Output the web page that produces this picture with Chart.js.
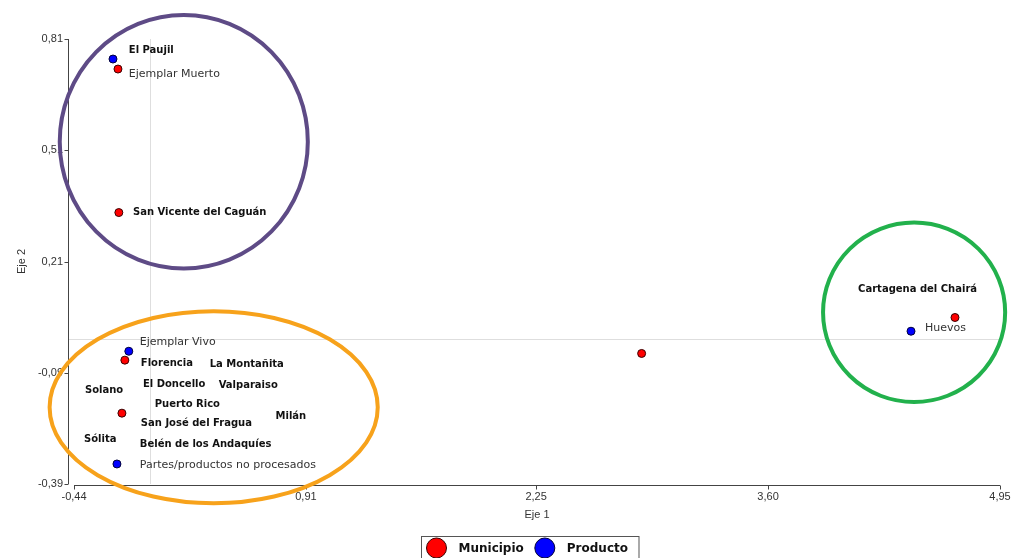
<!DOCTYPE html>
<html>
<head>
<meta charset="utf-8">
<script src="https://cdn.jsdelivr.net/npm/chart.js@4.4.1/dist/chart.umd.min.js"></script>
<style>
  html, body { margin: 0; padding: 0; background: #fff; }
  #wrap { width: 1022px; height: 558px; overflow: hidden; }
</style>
</head>
<body>
<div id="wrap"><canvas id="myChart" width="1022" height="558"></canvas></div>
<script>
// series
const seriesNames = ['Municipio', 'Producto'];
const municipioX = [-0.184, -0.179, -0.144, -0.161, 2.864, 4.688];
const municipioY = [0.729, 0.342, -0.056, -0.199, -0.038, 0.059];
const productoX = [-0.213, -0.121, -0.190, 4.432];
const productoY = [0.756, -0.032, -0.336, 0.022];

// point labels (data coords of left/middle of the text)
const labelText = ['El Paujil', 'Ejemplar Muerto', 'San Vicente del Caguán', 'Ejemplar Vivo',
  'Florencia', 'La Montañita', 'El Doncello', 'Valparaiso', 'Solano', 'Puerto Rico', 'Milán',
  'San José del Fragua', 'Sólita', 'Belén de los Andaquíes', 'Partes/productos no procesados',
  'Cartagena del Chairá', 'Huevos'];
const labelX = [-0.121, -0.121, -0.097, -0.057, -0.051, 0.350, -0.039, 0.402, -0.376, 0.030, 0.733,
  -0.051, -0.382, -0.057, -0.057, 4.124, 4.514];
const labelY = [0.778, 0.716, 0.342, -0.008, -0.064, -0.067, -0.121, -0.124, -0.137, -0.175, -0.207,
  -0.226, -0.269, -0.282, -0.339, 0.135, 0.030];
const labelBold = [1, 0, 1, 0, 1, 1, 1, 1, 1, 1, 1, 1, 1, 1, 0, 1, 0];

// axes
const xTicks = [-0.44, 0.91, 2.25, 3.60, 4.95];
const yTicks = [-0.39, -0.09, 0.21, 0.51, 0.81];

// group circles: center x, center y, radius x, radius y (data units)
const groups = [
  { cx: 0.199, cy: 0.533, rx: 0.722, ry: 0.342, color: '#5e4b86' },
  { cx: 0.373, cy: -0.183, rx: 0.955, ry: 0.259, color: '#f7a21b' },
  { cx: 4.450, cy: 0.073, rx: 0.530, ry: 0.242, color: '#22b14c' }
];

const fmt = v => v.toFixed(2).replace('.', ',');
const tickFont = { family: 'Liberation Sans', size: 11 };

const decor = {
  id: 'decor',
  beforeDatasetsDraw(chart) {
    const { ctx, chartArea: a, scales: { x, y } } = chart;
    ctx.save();
    // zero lines
    ctx.strokeStyle = '#dedede';
    ctx.lineWidth = 1;
    ctx.beginPath();
    const x0 = Math.round(x.getPixelForValue(0)) + 0.5;
    const y0 = Math.round(y.getPixelForValue(0)) + 0.5;
    ctx.moveTo(x0, a.top); ctx.lineTo(x0, a.bottom);
    ctx.moveTo(a.left - 6, y0); ctx.lineTo(a.right, y0);
    ctx.stroke();
    // axis lines
    ctx.strokeStyle = '#444';
    ctx.beginPath();
    const ax = a.left - 5.5;
    ctx.moveTo(ax, a.top); ctx.lineTo(ax, a.bottom);
    yTicks.forEach(v => {
      const p = Math.round(y.getPixelForValue(v)) + 0.5;
      ctx.moveTo(ax - 4, p); ctx.lineTo(ax, p);
    });
    const ay = a.bottom + 1.5;
    ctx.moveTo(a.left, ay); ctx.lineTo(a.right, ay);
    xTicks.forEach(v => {
      const p = Math.round(x.getPixelForValue(v)) + 0.5;
      ctx.moveTo(p, ay); ctx.lineTo(p, ay + 4);
    });
    ctx.stroke();
    ctx.restore();
  },
  afterDatasetsDraw(chart) {
    const { ctx, scales: { x, y } } = chart;
    ctx.save();
    ctx.textAlign = 'left';
    ctx.textBaseline = 'middle';
    labelText.forEach((t, i) => {
      ctx.font = labelBold[i] ? 'bold 10px "DejaVu Sans"' : '11px "DejaVu Sans"';
      ctx.fillStyle = labelBold[i] ? '#111' : '#333';
      ctx.fillText(t, x.getPixelForValue(labelX[i]), y.getPixelForValue(labelY[i]));
    });
    ctx.lineWidth = 4;
    groups.forEach(g => {
      const cx = x.getPixelForValue(g.cx), cy = y.getPixelForValue(g.cy);
      const rx = x.getPixelForValue(g.cx + g.rx) - cx;
      const ry = cy - y.getPixelForValue(g.cy + g.ry);
      ctx.strokeStyle = g.color;
      ctx.beginPath();
      ctx.ellipse(cx, cy, rx, ry, 0, 0, Math.PI * 2);
      ctx.stroke();
    });
    ctx.restore();
  },
  afterDraw(chart) {
    const { ctx, chartArea: a } = chart;
    const colors = chart.data.datasets.map(d => d.backgroundColor);
    const borders = chart.data.datasets.map(d => d.borderColor);
    ctx.save();
    ctx.font = 'bold 12px "DejaVu Sans"';
    const r = 10, gapA = 12, gapB = 11, pad = 5;
    const widths = seriesNames.map(n => ctx.measureText(n).width);
    let total = pad;
    widths.forEach((w, i) => { total += r * 2 + gapA + w + (i < widths.length - 1 ? gapB : 0); });
    total += pad + 6;
    const left = Math.round((a.left + a.right) / 2 - total / 2 - 7) + 0.5;
    const top = 536.5;
    ctx.fillStyle = '#fff';
    ctx.fillRect(left, top, total, 40);
    ctx.strokeStyle = '#555';
    ctx.lineWidth = 1;
    ctx.strokeRect(left, top, total, 40);
    let cur = left + pad;
    const cy = 548;
    seriesNames.forEach((n, i) => {
      ctx.beginPath();
      ctx.arc(cur + r, cy, r, 0, Math.PI * 2);
      ctx.fillStyle = colors[i];
      ctx.fill();
      ctx.strokeStyle = borders[i];
      ctx.stroke();
      cur += r * 2 + gapA;
      ctx.fillStyle = '#111';
      ctx.textBaseline = 'middle';
      ctx.fillText(n, cur, cy + 1);
      cur += widths[i] + gapB;
    });
    ctx.restore();
  }
};

const ctx = document.getElementById('myChart').getContext('2d');
const chart = new Chart(ctx, {
  type: 'scatter',
  data: {
    datasets: [{
      label: seriesNames[0],
      data: municipioX.map((v, i) => ({ x: v, y: municipioY[i] })),
      backgroundColor: '#ff0000',
      borderColor: '#3a0000',
      borderWidth: 1,
      pointRadius: 4,
      pointHoverRadius: 4
    }, {
      label: seriesNames[1],
      data: productoX.map((v, i) => ({ x: v, y: productoY[i] })),
      backgroundColor: '#0000ff',
      borderColor: '#00003a',
      borderWidth: 1,
      pointRadius: 4,
      pointHoverRadius: 4
    }]
  },
  options: {
    responsive: false,
    animation: false,
    layout: { padding: { top: 39, right: 22, bottom: 28, left: 0 } },
    plugins: { legend: { display: false }, tooltip: { enabled: false } },
    scales: {
      x: {
        type: 'linear',
        min: xTicks[0],
        max: xTicks[xTicks.length - 1],
        afterBuildTicks: s => { s.ticks = xTicks.map(v => ({ value: v })); },
        afterFit: s => { s.height = 46; },
        grid: { display: false, drawTicks: false },
        border: { display: false },
        ticks: { padding: 6, font: tickFont, color: '#333', maxRotation: 0, autoSkip: false, callback: v => fmt(v) },
        title: { display: true, text: 'Eje 1', color: '#333', font: tickFont, padding: { top: 0, bottom: 8 } }
      },
      y: {
        type: 'linear',
        min: yTicks[0],
        max: yTicks[yTicks.length - 1],
        afterBuildTicks: s => { s.ticks = yTicks.map(v => ({ value: v })); },
        afterFit: s => { s.width = 74; },
        grid: { display: false, drawTicks: false },
        border: { display: false },
        ticks: { padding: 11, font: tickFont, color: '#333', autoSkip: false, callback: v => fmt(v) },
        title: { display: true, text: 'Eje 2', color: '#333', font: tickFont, padding: { top: 15, bottom: 0 } }
      }
    }
  },
  plugins: [decor]
});
</script>
</body>
</html>
